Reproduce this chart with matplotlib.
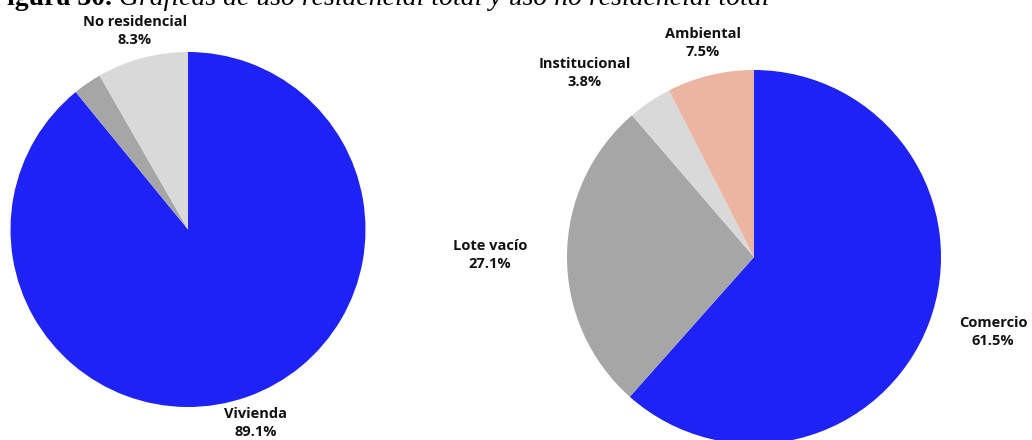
import matplotlib
matplotlib.use("Agg")
import matplotlib.pyplot as plt

# Left pie: uso total
left_labels = ["Vivienda", "", "No residencial"]
left_values = [89.1, 2.6, 8.3]
left_colors = ["#1e22f5", "#a6a6a6", "#d9d9d9"]

# Right pie: uso no residencial
right_labels = ["Comercio", "Lote vacío", "Institucional", "Ambiental"]
right_values = [61.5, 27.1, 3.8, 7.5]
right_colors = ["#1e22f5", "#a6a6a6", "#d9d9d9", "#ebb5a2"]

W, H = 1032, 440
fig = plt.figure(figsize=(W / 100, H / 100), dpi=100)
ax = fig.add_axes([0, 0, 1, 1])

ax.pie(left_values, colors=left_colors, startangle=90, counterclock=False,
       center=(188, H - 229.5), radius=177.5, frame=True)
ax.pie(right_values, colors=right_colors, startangle=90, counterclock=False,
       center=(754, H - 257), radius=187, frame=True)

ax.set_xlim(0, W)
ax.set_ylim(0, H)
ax.set_aspect("auto")
ax.axis("off")

lab_font = dict(fontsize=10.5, fontweight="bold", family=["Open Sans", "DejaVu Sans"],
                ha="center", va="center", color="#111111", linespacing=1.35)

# label anchor points (pixels from top-left)
left_pos = {"Vivienda": (256, 423), "No residencial": (135, 31)}
right_pos = {"Comercio": (993, 332), "Lote vacío": (490, 255),
             "Institucional": (585, 73), "Ambiental": (703, 43)}

for name, val in zip(left_labels, left_values):
    if name in left_pos:
        x, y = left_pos[name]
        ax.text(x, H - y, f"{name}\n{val:.1f}%", **lab_font)
for name, val in zip(right_labels, right_values):
    x, y = right_pos[name]
    ax.text(x, H - y, f"{name}\n{val:.1f}%", **lab_font)

# figure caption, cropped at the top edge in the original
base_y = 1 - 5 / H
t1 = fig.text(-10 / W, base_y, "Figura 30. ", fontsize=20, fontweight="bold",
              family=["Liberation Serif"], ha="left", va="baseline")
fig.canvas.draw()
bb = t1.get_window_extent()
fig.text(bb.x1 / W, base_y, "Gráficas de uso residencial total y uso no residencial total",
         fontsize=20, style="italic", family=["Liberation Serif"], ha="left", va="baseline")

fig.savefig("out.png", dpi=100)
